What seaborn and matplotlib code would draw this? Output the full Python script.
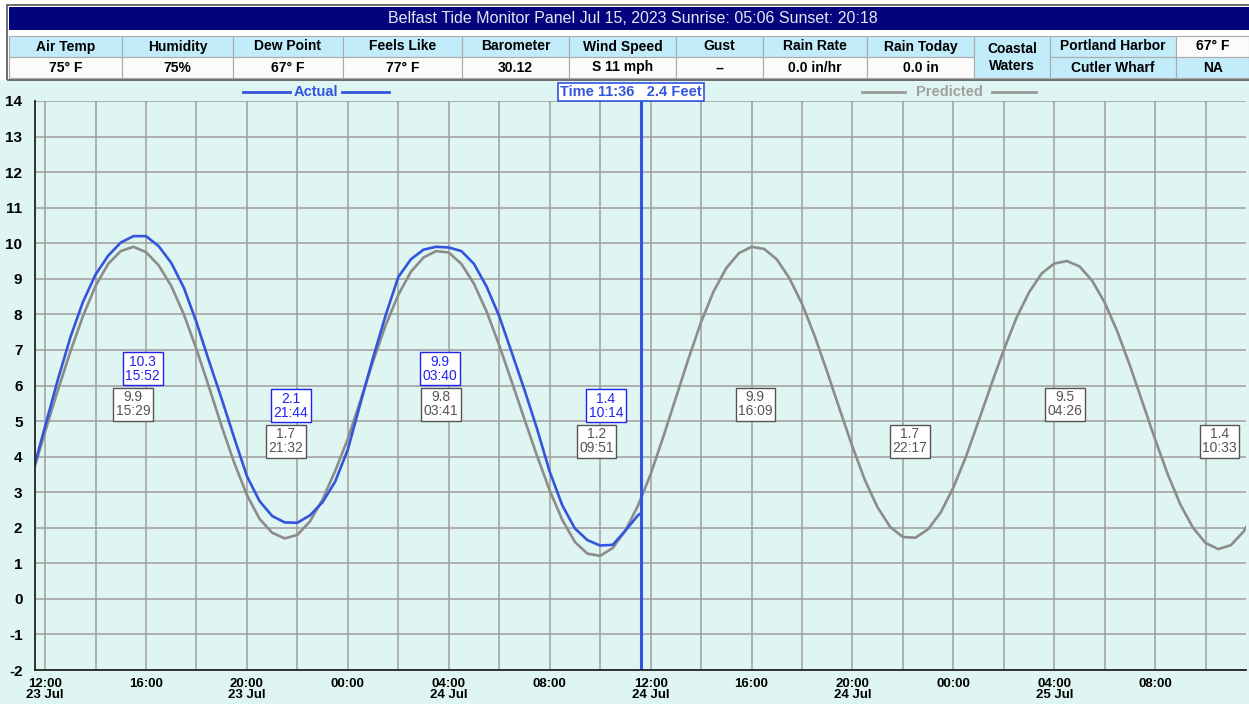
import matplotlib
matplotlib.use("Agg")
import matplotlib.pyplot as plt
import matplotlib.dates as mdates
from matplotlib.patches import Rectangle
from matplotlib.lines import Line2D
import pandas as pd
import seaborn as sns

W, H = 1249, 704

# ---- data ----
title = "Belfast Tide Monitor Panel Jul 15, 2023 Sunrise: 05:06 Sunset: 20:18"
wx_labels = ["Air Temp", "Humidity", "Dew Point", "Feels Like", "Barometer",
             "Wind Speed", "Gust", "Rain Rate", "Rain Today"]
wx_values = ["75° F", "75%", "67° F", "77° F", "30.12", "S 11 mph", "--",
             "0.0 in/hr", "0.0 in"]
water_title = "Coastal\nWaters"
water_sites = ["Portland Harbor", "Cutler Wharf"]
water_temps = ["67° F", "NA"]

# predicted tide, every 30 min from 23 Jul 11:30
pred_start = "2023-07-23 11:30"
predicted = [3.5, 4.7, 5.85, 6.95, 7.95, 8.8, 9.42, 9.78, 9.9, 9.75, 9.38, 8.8,
             8.0, 7.02, 5.95, 4.85, 3.82, 2.92, 2.25, 1.86, 1.7, 1.8, 2.18, 2.8,
             3.6, 4.5, 5.58, 6.68, 7.7, 8.55, 9.2, 9.6, 9.78, 9.74, 9.42, 8.86,
             8.08, 7.13, 6.1, 5.05, 4.02, 3.05, 2.22, 1.6, 1.27, 1.21, 1.43, 1.92,
             2.62, 3.5, 4.55, 5.65, 6.75, 7.78, 8.65, 9.3, 9.72, 9.9, 9.84, 9.55,
             9.02, 8.3, 7.4, 6.38, 5.32, 4.28, 3.33, 2.57, 2.02, 1.74, 1.72, 1.96,
             2.43, 3.13, 4.0, 5.0, 6.02, 7.0, 7.9, 8.62, 9.15, 9.43, 9.5, 9.35,
             8.95, 8.33, 7.52, 6.56, 5.52, 4.48, 3.5, 2.65, 2.0, 1.57, 1.4, 1.51,
             1.89, 2.5]

# observed tide, every 30 min from 23 Jul 11:30
actual_start = "2023-07-23 11:30"
actual = [3.55, 4.85, 6.15, 7.35, 8.35, 9.12, 9.65, 10.02, 10.2, 10.2, 9.92, 9.45,
          8.75, 7.78, 6.68, 5.62, 4.52, 3.45, 2.75, 2.33, 2.15, 2.14, 2.35, 2.72,
          3.3, 4.2, 5.5, 6.78, 7.98, 9.05, 9.55, 9.82, 9.9, 9.88, 9.78, 9.42,
          8.78, 7.95, 6.92, 5.88, 4.78, 3.58, 2.63, 1.98, 1.65, 1.5, 1.52, 1.92,
          2.35]
now_time = "2023-07-24 11:36"
now_level = 2.4

pred_ext_times = ["2023-07-23 15:29", "2023-07-23 21:32", "2023-07-24 03:41",
                  "2023-07-24 09:51", "2023-07-24 16:09", "2023-07-24 22:17",
                  "2023-07-25 04:26", "2023-07-25 10:33"]
pred_ext_levels = [9.9, 1.7, 9.8, 1.2, 9.9, 1.7, 9.5, 1.4]
pred_ext_high = [True, False, True, False, True, False, True, False]

act_ext_times = ["2023-07-23 15:52", "2023-07-23 21:44", "2023-07-24 03:40",
                 "2023-07-24 10:14"]
act_ext_levels = [10.3, 2.1, 9.9, 1.4]
act_ext_high = [True, False, True, False]

tick_labels = ["12:00\n23 Jul", "16:00", "20:00\n23 Jul", "00:00", "04:00\n24 Jul",
               "08:00", "12:00\n24 Jul", "16:00", "20:00\n24 Jul", "00:00",
               "04:00\n25 Jul", "08:00"]

# ---- style ----
MINT = "#dff5f1"
NAVY = "#03037e"
CELL_BLUE = "#c2ecfa"
CELL_WHITE = "#fdfafa"
BLUE = "#3355dd"
LABEL_BLUE = "#2222ee"
GRAY = "#8c8c8c"
NARROW = ["Liberation Sans Narrow", "DejaVu Sans Condensed", "Liberation Sans",
          "DejaVu Sans"]
SANS = ["Liberation Sans", "DejaVu Sans"]

plt.rcParams["font.family"] = SANS
plt.rcParams["axes.unicode_minus"] = False

fig = plt.figure(figsize=(W / 100, H / 100), dpi=100, facecolor=MINT)


def fx(px):
    return px / W


def fy(py):
    return 1 - py / H


def prect(x0, y0, x1, y1, fc, ec="none", lw=0):
    fig.add_artist(Rectangle((fx(x0), fy(y1)), (x1 - x0) / W, (y1 - y0) / H,
                             transform=fig.transFigure, fc=fc, ec=ec, lw=lw))


# header band + table
prect(0, 0, W, 80, "white")
prect(7, 5, W + 2, 80, "none", ec="#555555", lw=1.2)
prect(9, 7, W, 30, NAVY)
fig.text(fx(633), fy(18.5), title, color="#e6e6ee", fontsize=11.5,
         ha="center", va="center")

col_edges = [9, 122, 233, 343, 462, 569, 676, 763, 867, 974]
for i, (lab, val) in enumerate(zip(wx_labels, wx_values)):
    x0, x1 = col_edges[i], col_edges[i + 1]
    prect(x0, 36, x1, 57, CELL_BLUE, ec="#aaaaaa", lw=0.8)
    prect(x0, 57, x1, 78, CELL_WHITE, ec="#aaaaaa", lw=0.8)
    fig.text(fx((x0 + x1) / 2), fy(46.5), lab, fontsize=10, fontweight="bold",
             ha="center", va="center")
    fig.text(fx((x0 + x1) / 2), fy(67.5), val, fontsize=10, fontweight="bold",
             ha="center", va="center")

prect(974, 36, 1050, 78, CELL_BLUE, ec="#aaaaaa", lw=0.8)
fig.text(fx(1012), fy(57.5), water_title, fontsize=10, fontweight="bold",
         ha="center", va="center", linespacing=1.35)
for r, (site, temp) in enumerate(zip(water_sites, water_temps)):
    y0 = 36 + r * 21
    prect(1050, y0, 1176, y0 + 21, CELL_BLUE, ec="#aaaaaa", lw=0.8)
    prect(1176, y0, W, y0 + 21, CELL_WHITE if r == 0 else CELL_BLUE,
          ec="#aaaaaa", lw=0.8)
    fig.text(fx(1113), fy(y0 + 10.5), site, fontsize=10, fontweight="bold",
             ha="center", va="center")
    fig.text(fx(1213), fy(y0 + 10.5), temp, fontsize=10, fontweight="bold",
             ha="center", va="center")

# legend row
for (xa, xb) in [(243, 290), (342, 389)]:
    fig.add_artist(Line2D([fx(xa), fx(xb)], [fy(92), fy(92)], color=BLUE, lw=2,
                          transform=fig.transFigure))
fig.text(fx(316), fy(92), "Actual", color=BLUE, fontsize=10.5, fontweight="bold",
         family=NARROW, ha="center", va="center")
for (xa, xb) in [(862, 905), (992, 1036)]:
    fig.add_artist(Line2D([fx(xa), fx(xb)], [fy(92), fy(92)], color="#999999",
                          lw=2, transform=fig.transFigure))
fig.text(fx(949), fy(92), "Predicted", color="#a0a0a0", fontsize=10.5,
         fontweight="bold", family=NARROW, ha="center", va="center")

now_ts = pd.Timestamp(now_time)
fig.text(fx(631), fy(92), f"Time {now_ts:%H:%M}   {now_level} Feet", color=BLUE,
         fontsize=10.5, fontweight="bold", family=NARROW, ha="center", va="center",
         bbox=dict(boxstyle="square,pad=0.12", fc="white", ec=BLUE, lw=1.2))

# ---- chart ----
ax = fig.add_axes([fx(35), fy(670), (1246 - 35) / W, (670 - 101) / H])
ax.set_facecolor(MINT)

pred_df = pd.DataFrame({
    "time": pd.date_range(pred_start, periods=len(predicted), freq="30min"),
    "level": predicted,
})
act_df = pd.DataFrame({
    "time": list(pd.date_range(actual_start, periods=len(actual), freq="30min"))
    + [now_ts],
    "level": actual + [now_level],
})

sns.lineplot(data=pred_df, x="time", y="level", ax=ax, color=GRAY, lw=1.9)
sns.lineplot(data=act_df, x="time", y="level", ax=ax, color=BLUE, lw=1.9)
ax.axvline(now_ts, color=BLUE, lw=2.2)

t0 = pd.Timestamp("2023-07-23 11:36")
ax.set_xlim(t0, t0 + pd.Timedelta(hours=48))
ax.set_ylim(-2, 14)
ax.set_yticks(range(-2, 15))
ax.set_xticks(pd.date_range("2023-07-23 12:00", periods=len(tick_labels), freq="4h"))
ax.set_xticklabels(tick_labels, linespacing=0.85)
ax.xaxis.set_minor_locator(mdates.HourLocator(byhour=range(0, 24, 2)))
ax.grid(which="both", color="#9e9e9e", lw=1.1)
ax.set_axisbelow(True)
ax.tick_params(which="both", length=0)
ax.tick_params(axis="x", pad=6)
ax.tick_params(axis="y", pad=9)
for lab in ax.get_xticklabels():
    lab.set_family(NARROW)
    lab.set_fontweight("bold")
    lab.set_fontsize(9.5)
for lab in ax.get_yticklabels():
    lab.set_family(NARROW)
    lab.set_fontweight("bold")
    lab.set_fontsize(11)
ax.set_xlabel("")
ax.set_ylabel("")
for side in ["top", "right"]:
    ax.spines[side].set_visible(False)
for side in ["left", "bottom"]:
    ax.spines[side].set_color("#222222")
    ax.spines[side].set_linewidth(1.3)

# extreme labels
HIGH_Y, LOW_Y, STACK = 5.47, 4.43, 1.0
for t, v, hi in zip(pred_ext_times, pred_ext_levels, pred_ext_high):
    ts = pd.Timestamp(t)
    ax.text(ts, HIGH_Y if hi else LOW_Y, f"{v}\n{ts:%H:%M}", color="#555555",
            fontsize=10, ha="center", va="center", linespacing=1.0,
            bbox=dict(boxstyle="square,pad=0.18", fc="white", ec="#555555", lw=1))
for t, v, hi in zip(act_ext_times, act_ext_levels, act_ext_high):
    ts = pd.Timestamp(t)
    ax.text(ts, (HIGH_Y if hi else LOW_Y) + STACK, f"{v}\n{ts:%H:%M}",
            color=LABEL_BLUE, fontsize=10, ha="center", va="center",
            linespacing=1.0,
            bbox=dict(boxstyle="square,pad=0.18", fc="white", ec=LABEL_BLUE, lw=1))

fig.savefig("out.png", dpi=100, facecolor=MINT)
